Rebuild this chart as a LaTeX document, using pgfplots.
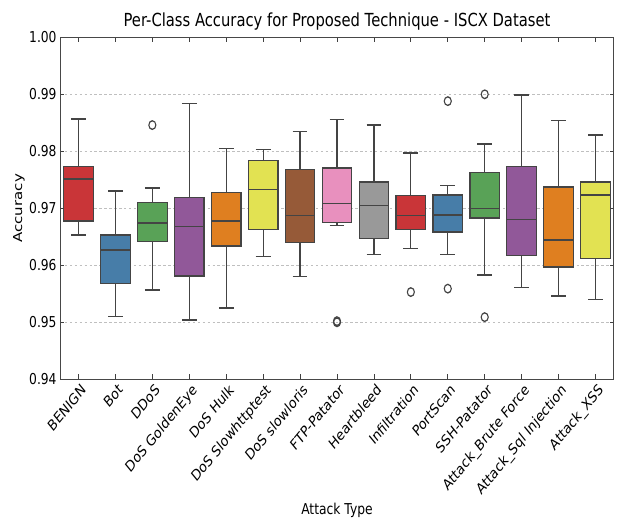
\documentclass[border=0pt]{standalone}
\usepackage{graphicx}
\usepackage{pgfplots}
\pgfplotsset{compat=1.18}
\usepackage{fontspec}
\setmainfont{DejaVu Sans}
\definecolor{cRed}{HTML}{C93538}
\definecolor{cBlue}{HTML}{477DA8}
\definecolor{cGreen}{HTML}{59A257}
\definecolor{cPurple}{HTML}{915899}
\definecolor{cOrange}{HTML}{DF7F20}
\definecolor{cYellow}{HTML}{E2E252}
\definecolor{cBrown}{HTML}{965A38}
\definecolor{cPink}{HTML}{E890BE}
\definecolor{cGrey}{HTML}{999999}
\definecolor{edge}{HTML}{444444}
\pgfplotsset{
  wh/.style={draw=edge, line width=1.5pt},
  bxs/.style={draw=edge, line width=1.5pt, line join=miter},
}
% #1 position, #2 colour, #3 lower whisker, #4 lower quartile, #5 median, #6 upper quartile, #7 upper whisker
\newcommand\bx[7]{%
  \pgfmathsetmacro\L{#1-0.4}%
  \pgfmathsetmacro\R{#1+0.4}%
  \pgfmathsetmacro\cL{#1-0.2}%
  \pgfmathsetmacro\cR{#1+0.2}%
  \edef\doit{%
    \noexpand\addplot[wh] coordinates {(#1,#3) (#1,#4)};
    \noexpand\addplot[wh] coordinates {(#1,#6) (#1,#7)};
    \noexpand\addplot[wh] coordinates {(\cL,#3) (\cR,#3)};
    \noexpand\addplot[wh] coordinates {(\cL,#7) (\cR,#7)};
    \noexpand\addplot[bxs, fill=#2] coordinates {(\L,#4) (\R,#4) (\R,#6) (\L,#6)} -- cycle;
    \noexpand\addplot[wh] coordinates {(\L,#5) (\R,#5)};
  }\doit}
\begin{document}
\scalebox{0.82}[1]{%
\begin{tikzpicture}[font=\fontsize{15}{17}\selectfont]
\begin{axis}[
  name=ax,
  scale only axis,
  width=675.6pt, height=342pt,
  xmin=-0.5, xmax=14.5,
  ymin=0.94, ymax=1.00,
  xtick={0,...,14},
  xticklabels={BENIGN,Bot,DDoS,DoS GoldenEye,DoS Hulk,DoS Slowhttptest,DoS slowloris,FTP-Patator,Heartbleed,Infiltration,PortScan,SSH-Patator,Attack\_Brute Force,Attack\_Sql Injection,Attack\_XSS},
  xticklabel style={rotate=45, anchor=north east, inner sep=1pt, yshift=-3pt},
  ytick={0.94,0.95,0.96,0.97,0.98,0.99,1.00},
  yticklabels={0.94,0.95,0.96,0.97,0.98,0.99,1.00},
  yticklabel style={inner sep=2pt, xshift=-2pt},
  tick pos=both, tick align=inside,
  major tick length=5pt,
  tick style={black!75, line width=1pt},
  axis line style={black!72, line width=1.2pt},
  ymajorgrids, grid style={dashed, black!25, line width=0.7pt},
  title={Per-Class Accuracy for Proposed Technique - ISCX Dataset},
  title style={font=\fontsize{18}{20}\selectfont, yshift=-2pt},
  xlabel={Attack Type}, ylabel={Accuracy},
  clip=false,
]
\bx{0}{cRed}{0.9653}{0.9678}{0.9751}{0.9773}{0.9857}
\bx{1}{cBlue}{0.9510}{0.9568}{0.9627}{0.9653}{0.9730}
\bx{2}{cGreen}{0.9557}{0.9642}{0.9674}{0.9710}{0.9736}
\bx{3}{cPurple}{0.9504}{0.9581}{0.9668}{0.9719}{0.9884}
\bx{4}{cOrange}{0.9525}{0.9634}{0.9678}{0.9728}{0.9805}
\bx{5}{cYellow}{0.9615}{0.9663}{0.9733}{0.9784}{0.9803}
\bx{6}{cBrown}{0.9580}{0.9640}{0.9687}{0.9768}{0.9835}
\bx{7}{cPink}{0.9670}{0.9675}{0.9708}{0.9771}{0.9856}
\bx{8}{cGrey}{0.9619}{0.9647}{0.9705}{0.9746}{0.9846}
\bx{9}{cRed}{0.9629}{0.9663}{0.9687}{0.9722}{0.9797}
\bx{10}{cBlue}{0.9619}{0.9658}{0.9688}{0.9723}{0.9740}
\bx{11}{cGreen}{0.9583}{0.9683}{0.9700}{0.9763}{0.9813}
\bx{12}{cPurple}{0.9561}{0.9617}{0.9680}{0.9773}{0.9899}
\bx{13}{cOrange}{0.9546}{0.9597}{0.9644}{0.9737}{0.9854}
\bx{14}{cYellow}{0.9540}{0.9612}{0.9723}{0.9746}{0.9829}
% outliers
\addplot[only marks, mark=o, mark size=4.3pt, mark options={draw=edge, line width=1.3pt}] coordinates {
  (2,0.9846) (7,0.9500) (7,0.9502) (9,0.9553) (10,0.9888) (10,0.9559) (11,0.9900) (11,0.9509)
};
\end{axis}
\pgfresetboundingbox
\path ([shift={(-73.2pt,-140.7pt)}]ax.south west) rectangle ([shift={(3.7pt,37.3pt)}]ax.north east);
\end{tikzpicture}}
\end{document}
